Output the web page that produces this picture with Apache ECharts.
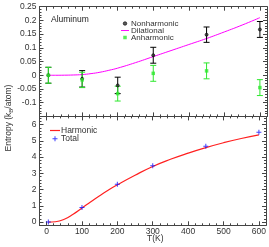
<!DOCTYPE html>
<html><head><meta charset="utf-8">
<script src="https://cdn.jsdelivr.net/npm/echarts@6/dist/echarts.min.js"></script>
<style>html,body{margin:0;padding:0;background:#fff}#c{width:269px;height:247px}</style>
</head><body><div id="c"></div>
<script>
// ---- data ----
const T_pts = [5, 100, 200, 300, 450, 600];
const nonharmonic = [0, -0.013, -0.037, 0.073, 0.148, 0.167];
const nonharmonicErr = [0.029, 0.030, 0.030, 0.029, 0.028, 0.029];
const anharmonic = [0, -0.017, -0.067, 0.007, 0.016, -0.045];
const anharmonicErr = [0.029, 0.028, 0.027, 0.029, 0.029, 0.029];
const T_curve = [5, 25, 50, 75, 100, 125, 150, 175, 200, 250, 300, 350, 400, 450, 500, 550, 600];
const dilational = [0, 0, 0.0003, 0.001, 0.0025, 0.006, 0.011, 0.018, 0.026, 0.046, 0.068, 0.090, 0.112, 0.134, 0.158, 0.183, 0.21];
const harmonic = [0, 0.02, 0.17, 0.48, 0.86, 1.25, 1.62, 1.97, 2.29, 2.88, 3.42, 3.86, 4.24, 4.58, 4.88, 5.14, 5.36];
const total = [0, 0.89, 2.32, 3.47, 4.67, 5.53];
const xMajorTicks = [0, 100, 200, 300, 400, 500, 600];
const yBottomMajorTicks = [0, 1, 2, 3, 4, 5, 6];

const FONT = 'Liberation Sans';
const AXC = '#444';
const TXT = '#333';

function zip(a, b, c) { return a.map((v, i) => c ? [v, b[i], c[i]] : [v, b[i]]); }

function xAxesFor(grid, withLabels) {
  const base = {type: 'value', gridIndex: grid, min: -20, max: 620, splitLine: {show: false}};
  const minor = (pos, lab) => Object.assign({}, base, {
    position: pos, interval: 20,
    axisLine: {show: true, onZero: false, lineStyle: {color: AXC, width: 1}},
    axisTick: {show: true, inside: true, length: 2, lineStyle: {color: AXC}},
    axisLabel: {show: lab, margin: 2, fontSize: 8.5, fontFamily: FONT, color: TXT,
      formatter: v => (Math.abs(v % 100) < 1e-6 && v >= 0) ? String(Math.round(v)) : ''}
  });
  const major = pos => Object.assign({}, base, {
    position: pos,
    axisLine: {show: false, onZero: false},
    axisTick: {show: true, inside: true, length: 4, customValues: xMajorTicks, lineStyle: {color: AXC}},
    axisLabel: {show: false}
  });
  return [minor('bottom', withLabels), major('bottom'), minor('top', false), major('top')];
}

function yAxisTop(pos) {
  return {
    type: 'value', gridIndex: 0, position: pos, min: -0.15, max: 0.25, interval: 0.05,
    splitLine: {show: false},
    axisLine: {show: true, onZero: false, lineStyle: {color: AXC}},
    axisTick: {show: true, inside: true, length: 4, lineStyle: {color: AXC}},
    minorTick: {show: true, splitNumber: 5, length: 2, lineStyle: {color: AXC}},
    axisLabel: {show: pos === 'left', margin: 3, fontSize: 8.5, fontFamily: FONT, color: TXT,
      showMinLabel: false,
      formatter: v => { const r = Math.round(v * 100) / 100; return r <= -0.149 ? '' : String(r); }}
  };
}

function yAxesBottom(pos) {
  const base = {type: 'value', gridIndex: 1, position: pos, min: -0.2, max: 6.5, splitLine: {show: false}};
  return [
    Object.assign({}, base, {
      interval: 0.2,
      axisLine: {show: true, onZero: false, lineStyle: {color: AXC}},
      axisTick: {show: true, inside: true, length: 2, lineStyle: {color: AXC}},
      axisLabel: {show: pos === 'left', margin: 3, fontSize: 8.5, fontFamily: FONT, color: TXT,
        formatter: v => (Math.abs(v - Math.round(v)) < 1e-6 && v > -0.1) ? String(Math.round(v)) : ''}
    }),
    Object.assign({}, base, {
      axisLine: {show: false, onZero: false},
      axisTick: {show: true, inside: true, length: 4, customValues: yBottomMajorTicks, lineStyle: {color: AXC}},
      axisLabel: {show: false}
    })
  ];
}

function errorBars(name, xs, ys, es, color, xi, yi) {
  return {
    type: 'custom', name: name + '_err', xAxisIndex: xi, yAxisIndex: yi,
    data: zip(xs, ys, es), encode: {x: 0, y: 1}, silent: true, z: 2,
    renderItem: (params, api) => {
      const x = api.value(0), y = api.value(1), e = api.value(2);
      const t = api.coord([x, y + e]), b = api.coord([x, y - e]);
      const w = 3;
      const st = {stroke: color, lineWidth: 1};
      return {type: 'group', children: [
        {type: 'line', shape: {x1: t[0], y1: t[1], x2: b[0], y2: b[1]}, style: st},
        {type: 'line', shape: {x1: t[0] - w, y1: t[1], x2: t[0] + w, y2: t[1]}, style: st},
        {type: 'line', shape: {x1: b[0] - w, y1: b[1], x2: b[0] + w, y2: b[1]}, style: st}
      ]};
    }
  };
}

const PLUS = 'path://M4,0 L6,0 L6,4 L10,4 L10,6 L6,6 L6,10 L4,10 L4,6 L0,6 L0,4 L4,4 Z';
const LINEICON = 'path://M0,4.4 L10,4.4 L10,5.6 L0,5.6 Z';
const SQUARE = 'path://M0,0 L1,0 L1,1 L0,1 Z';
const GREEN = '#2ee82e';

const chart = echarts.init(document.getElementById('c'), null, {renderer: 'canvas'});
chart.setOption({
  animation: false,
  backgroundColor: '#fff',
  grid: [
    {left: 39.5, right: 2, top: 6.7, height: 109.7},
    {left: 39.5, right: 2, top: 116.4, height: 108.9}
  ],
  xAxis: [].concat(xAxesFor(0, false), xAxesFor(1, true)),
  yAxis: [yAxisTop('left'), yAxisTop('right')].concat(yAxesBottom('left'), yAxesBottom('right')),
  legend: [
    {
      orient: 'vertical', left: 121, top: 19.5, itemWidth: 8, itemHeight: 3.5, itemGap: -1,
      padding: 0, textStyle: {fontSize: 8, fontFamily: FONT, color: TXT, lineHeight: 6, padding: [0, 0, 0, -3]},
      data: [
        {name: 'Nonharmonic', icon: 'circle', itemStyle: {color: '#333', borderColor: '#000', borderWidth: 0.8}},
        {name: 'Dilational', icon: LINEICON, itemStyle: {color: '#ff00ff'}},
        {name: 'Anharmonic', icon: SQUARE}
      ]
    },
    {
      orient: 'vertical', left: 50, top: 126, itemWidth: 10, itemHeight: 5, itemGap: -0.7,
      padding: 0, textStyle: {fontSize: 8.5, fontFamily: FONT, color: TXT, lineHeight: 7, padding: [0, 0, 0, -4]},
      data: [
        {name: 'Harmonic', icon: LINEICON, itemStyle: {color: '#ff2020'}},
        {name: 'Total', icon: PLUS}
      ]
    }
  ],
  graphic: [
    {type: 'text', left: 51, top: 15.5, style: {text: 'Aluminum', fontSize: 8.5, fontFamily: FONT, fill: '#222'}},
    {type: 'text', x: 147, y: 234, style: {text: 'T(K)', fontSize: 8.5, fontFamily: FONT, fill: TXT}},
    {type: 'text', x: 9, y: 118, rotation: Math.PI / 2,
      style: {
        text: '{a|Entropy (k}{b|B}{a|/atom)}', align: 'center', verticalAlign: 'middle',
        rich: {
          a: {fontSize: 8.5, fontFamily: FONT, fill: TXT, color: TXT},
          b: {fontSize: 6, fontFamily: FONT, fill: TXT, color: TXT, padding: [5, 0, 0, 0]}
        }
      }}
  ],
  series: [
    {
      type: 'line', name: 'Dilational', xAxisIndex: 0, yAxisIndex: 0,
      data: zip(T_curve, dilational), smooth: true, showSymbol: false, symbol: 'none',
      lineStyle: {color: '#ff00ff', width: 1}, itemStyle: {color: '#ff00ff'}, z: 1
    },
    errorBars('Nonharmonic', T_pts, nonharmonic, nonharmonicErr, '#000', 0, 0),
    {
      type: 'scatter', name: 'Nonharmonic', xAxisIndex: 0, yAxisIndex: 0,
      data: zip(T_pts, nonharmonic), symbol: 'circle', symbolSize: 3,
      itemStyle: {color: '#333', borderColor: '#000', borderWidth: 0.8}, z: 3
    },
    errorBars('Anharmonic', T_pts, anharmonic, anharmonicErr, GREEN, 0, 0),
    {
      type: 'scatter', name: 'Anharmonic', xAxisIndex: 0, yAxisIndex: 0,
      data: zip(T_pts, anharmonic), symbol: 'rect', symbolSize: 3.5,
      itemStyle: {color: GREEN}, z: 4
    },
    {
      type: 'line', name: 'Harmonic', xAxisIndex: 4, yAxisIndex: 2,
      data: zip(T_curve, harmonic), smooth: true, showSymbol: false, symbol: 'none',
      lineStyle: {color: '#ff2020', width: 1.2}, itemStyle: {color: '#ff2020'}, z: 1
    },
    {
      type: 'scatter', name: 'Total', xAxisIndex: 4, yAxisIndex: 2,
      data: zip(T_pts, total), symbol: PLUS, symbolSize: 5,
      itemStyle: {color: '#1010ff'}, z: 3
    }
  ]
});
</script>
</body></html>
